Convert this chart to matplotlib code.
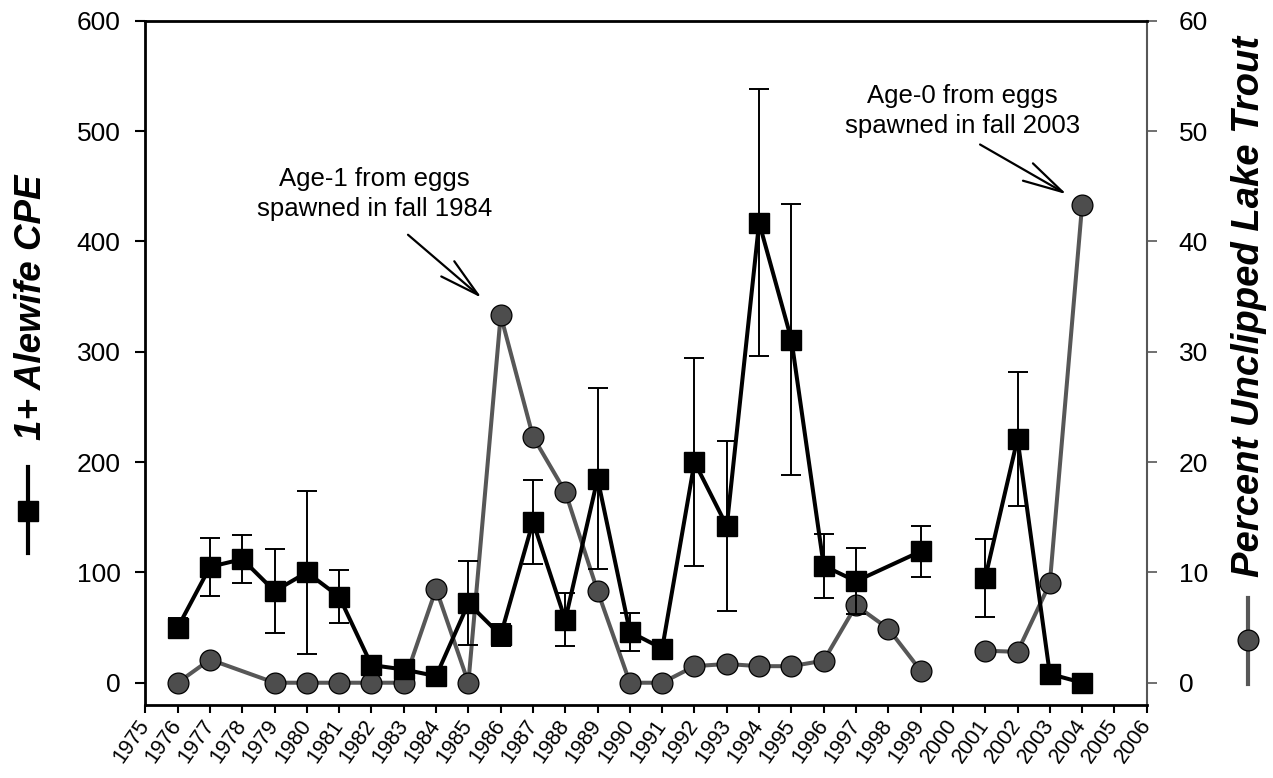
import numpy as np
import matplotlib
matplotlib.use('Agg')
import matplotlib.pyplot as plt
from matplotlib.lines import Line2D

plt.rcParams['font.family'] = ['Liberation Sans', 'DejaVu Sans']

# alewife catch per effort (left axis), no sample in 2000
cpe_years = [1976, 1977, 1978, 1979, 1980, 1981, 1982, 1983, 1984, 1985, 1986, 1987,
             1988, 1989, 1990, 1991, 1992, 1993, 1994, 1995, 1996, 1997, 1999,
             2001, 2002, 2003, 2004]
cpe = [50, 105, 112, 83, 100, 78, 16, 12, 6, 72, 43, 146,
       57, 185, 46, 31, 200, 142, 417, 311, 106, 92, 119,
       95, 221, 8, 0]
cpe_err = [9, 26, 22, 38, 74, 24, 5, 5, 4, 38, 10, 38,
           24, 82, 17, 3, 94, 77, 121, 123, 29, 30, 23,
           35, 61, 4, 2]

# percent unclipped lake trout (right axis)
pct_years = [1976, 1977, 1979, 1980, 1981, 1982, 1983, 1984, 1985, 1986, 1987,
             1988, 1989, 1990, 1991, 1992, 1993, 1994, 1995, 1996, 1997, 1998, 1999,
             2001, 2002, 2003, 2004]
pct = [0, 2.1, 0, 0, 0, 0, 0, 8.5, 0, 33.3, 22.3,
       17.3, 8.3, 0, 0, 1.5, 1.7, 1.5, 1.5, 2.0, 7.0, 4.9, 1.1,
       2.9, 2.8, 9.0, 43.3]

xticks = list(range(1975, 2007))

gray_line = '#575757'
gray_fill = '#4d4d4d'

fig = plt.figure(figsize=(12.73, 7.78), dpi=100)
ax = fig.add_axes([0.1142, 0.0941, 0.7866, 0.8793])
ax2 = ax.twinx()
ax.set_zorder(ax2.get_zorder() + 1)
ax.patch.set_visible(False)

cy = np.array(cpe_years)
cv = np.array(cpe, dtype=float)
py = np.array(pct_years)
pv = np.array(pct, dtype=float)

# percent unclipped, broken at 2000
for m in (py < 2000, py > 2000):
    ax2.plot(py[m], pv[m], color=gray_line, lw=2.9, marker='o', ms=15,
             mfc=gray_fill, mec='black', mew=0.9)

# alewife CPE with error bars, broken at 2000
ax.errorbar(cpe_years, cpe, yerr=cpe_err, fmt='none', ecolor='black',
            elinewidth=1.4, capsize=7.5, capthick=1.4)
for m in (cy < 2000, cy > 2000):
    ax.plot(cy[m], cv[m], color='black', lw=2.9, marker='s', ms=14,
            mfc='black', mec='black')

ax.set_xlim(1975, 2006)
ax.set_ylim(-20, 600)
ax2.set_ylim(-2, 60)

ax.set_yticks([0, 100, 200, 300, 400, 500, 600])
ax2.set_yticks([0, 10, 20, 30, 40, 50, 60])
ax.set_xticks(xticks)
ax.set_xticklabels([str(y) for y in xticks], rotation=55, ha='right',
                   va='center', rotation_mode='anchor', fontsize=15.5)

ax.tick_params(axis='y', direction='out', length=7, width=1.5, labelsize=19, pad=11)
ax.tick_params(axis='x', direction='out', length=6, width=1.5, pad=6)
ax2.tick_params(axis='y', direction='out', length=7, width=1.2, labelsize=19,
                pad=16, color=gray_line)

for s in ('left', 'bottom', 'top'):
    ax.spines[s].set_linewidth(2)
    ax.spines[s].set_color('black')
    ax2.spines[s].set_visible(False)
ax.spines['right'].set_visible(False)
ax2.spines['right'].set_color(gray_line)
ax2.spines['right'].set_linewidth(1.5)

# annotations
ax.text(1982.1, 443, 'Age-1 from eggs\nspawned in fall 1984', ha='center', va='center',
        fontsize=18.5, linespacing=1.3)
ax.annotate('', xy=(1985.41, 348.8), xytext=(1983.13, 406),
            arrowprops=dict(arrowstyle='->,head_length=1.6,head_width=0.4',
                            color='black', lw=1.6, shrinkA=0, shrinkB=0),
            fontsize=18)
ax.text(2000.3, 518, 'Age-0 from eggs\nspawned in fall 2003', ha='center', va='center',
        fontsize=18.5, linespacing=1.3)
ax.annotate('', xy=(2003.52, 442.7), xytext=(2000.84, 487.8),
            arrowprops=dict(arrowstyle='->,head_length=1.6,head_width=0.4',
                            color='black', lw=1.6, shrinkA=0, shrinkB=0),
            fontsize=18)

# axis titles with their legend glyphs
W, H = 1273.0, 778.0
fig.text(32 / W, 1 - 307 / H, '1+ Alewife CPE', rotation=90, ha='center', va='center',
         fontsize=26.5, fontweight='bold', fontstyle='italic')
fig.add_artist(Line2D([28 / W, 28 / W], [1 - 467 / H, 1 - 553 / H],
                      transform=fig.transFigure, color='black', lw=3))
fig.add_artist(Line2D([28 / W], [1 - 511 / H], transform=fig.transFigure,
                      marker='s', ms=14.5, mfc='black', mec='black', ls='none'))

fig.text(1249 / W, 1 - 306.5 / H, 'Percent Unclipped Lake Trout', rotation=90,
         ha='center', va='center', fontsize=27.5, fontweight='bold', fontstyle='italic')
fig.add_artist(Line2D([1248 / W, 1248 / W], [1 - 598 / H, 1 - 684 / H],
                      transform=fig.transFigure, color=gray_line, lw=3))
fig.add_artist(Line2D([1248 / W], [1 - 640 / H], transform=fig.transFigure,
                      marker='o', ms=15, mfc=gray_fill, mec='black', mew=0.9, ls='none'))

fig.savefig('out.png', dpi=100)
